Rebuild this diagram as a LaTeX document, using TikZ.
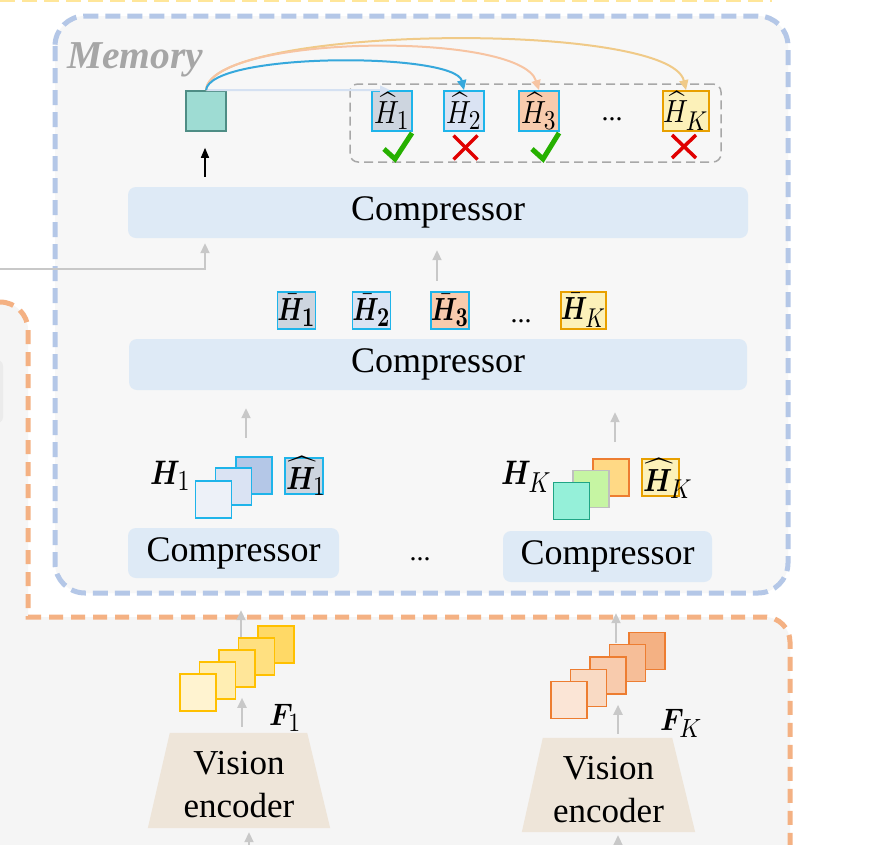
\documentclass[tikz,border=0pt]{standalone}
\usepackage{fontspec}
\setmainfont{Liberation Serif}
\usepackage{bm}
\usetikzlibrary{arrows.meta,calc}
\definecolor{memfill}{HTML}{F7F7F7}
\definecolor{memblue}{HTML}{B4C7E7}
\definecolor{orline}{HTML}{F4B183}
\definecolor{orfill}{HTML}{F5F5F5}
\definecolor{yel}{HTML}{FFE699}
\definecolor{compfill}{HTML}{DEEAF6}
\definecolor{cyanb}{HTML}{1EB4EA}
\definecolor{tealfill}{HTML}{9EDCD3}
\definecolor{tealdraw}{HTML}{4E8D85}
\definecolor{arrgray}{HTML}{C8C8C8}
\definecolor{grpgray}{HTML}{A8A8A8}
\definecolor{chkgreen}{HTML}{26B000}
\definecolor{crsred}{HTML}{E00000}
\definecolor{encfill}{HTML}{EEE5D9}
\definecolor{memgray}{HTML}{A6A6A6}
\definecolor{fA}{HTML}{CDD5DF}
\definecolor{fB}{HTML}{DAE3F3}
\definecolor{fC}{HTML}{F8CBAD}
\definecolor{fD}{HTML}{FCF1B9}
\definecolor{dK}{HTML}{E8A000}
\definecolor{lblue}{HTML}{D5E1F2}
\definecolor{cblue}{HTML}{36A8DC}
\definecolor{cpeach}{HTML}{F7C4A2}
\definecolor{corange}{HTML}{F0CA88}
\definecolor{oK}{HTML}{ED7D31}
\definecolor{yK}{HTML}{FFC000}
\newcommand{\mysb}[1]{\scalebox{0.85}{$#1$}}
\newcommand{\mysbb}[1]{\scalebox{0.85}{$\bm{#1}$}}
\tikzset{
  hb/.style={draw=cyanb, line width=1.8pt, minimum width=40pt, minimum height=40pt, inner sep=0pt},
  bb/.style={draw=cyanb, line width=1.8pt, minimum width=37pt, minimum height=37pt, inner sep=0pt},
  sq/.style={draw=cyanb, line width=1.6pt, minimum width=36pt, minimum height=37pt, inner sep=0pt},
  fsq/.style={line width=1.6pt, minimum width=36pt, minimum height=37pt, inner sep=0pt},
  comp/.style={fill=compfill, rounded corners=8pt, minimum height=51pt, inner sep=0pt, font=\fontsize{36}{40}\selectfont},
  garrow/.style={draw=arrgray, line width=2pt, -{Triangle[length=10pt,width=9pt]}},
  carrow/.style={line width=2pt, -{Triangle[length=10pt,width=9pt]}},
  chk/.style={draw=chkgreen, line width=5pt},
  crs/.style={draw=crsred, line width=3.5pt},
  dotsf/.style={font=\fontsize{28}{30}\selectfont, anchor=base, inner sep=0pt},
  lbl/.style={anchor=base west, inner sep=0pt},
  enc/.style={minimum height=95pt, inner sep=0pt},
  enctext/.style={align=center, inner sep=0pt, font=\fontsize{35}{43}\selectfont},
}
\begin{document}
\begin{tikzpicture}[x=1pt,y=-1pt]
\useasboundingbox (0,0) rectangle (874,844);
\clip (0,0) rectangle (874,844);
\fill[white] (0,0) rectangle (874,844);
% orange region
\fill[orfill] (0,302) .. controls (15.5,302) and (28,314.5) .. (28,330) -- (28,617) -- (765,617) .. controls (778.8,617) and (790,628.2) .. (790,642) -- (790,870) -- (-10,870) -- (-10,302) -- cycle;
\draw[orline, line width=5pt, dash pattern=on 14pt off 8pt] (0,302) .. controls (15.5,302) and (28,314.5) .. (28,330) -- (28,617) -- (765,617) .. controls (778.8,617) and (790,628.2) .. (790,642) -- (790,870);
% top yellow line
\draw[yel, line width=4pt, dash pattern=on 15pt off 7pt] (0,0) -- (772,0);
% partial gray box at left edge
\fill[black!8, rounded corners=6pt] (-20,360) rectangle (3,423);
% memory box
\draw[memblue, fill=memfill, line width=5pt, dash pattern=on 15pt off 7pt, rounded corners=30pt] (55,16) rectangle (788,593);
\node[anchor=base west, inner sep=0pt, text=memgray, font=\fontsize{39.5}{42}\selectfont\bfseries\itshape] (memtitle) at (67,68) {Memory};

% compressors
\node[comp, minimum width=620pt] (c1) at (438,212.5) {Compressor};
\node[comp, minimum width=618pt] (c2) at (438,364.5) {Compressor};
\node[comp, minimum width=211pt, minimum height=50pt] (cl) at (233.5,553) {Compressor};
\node[comp, minimum width=209pt] (cr) at (607.5,556.5) {Compressor};

% memory token
\node[fill=tealfill, draw=tealdraw, line width=1.6pt, minimum width=40pt, minimum height=40pt, inner sep=0pt] (mem) at (206,111) {};

% group box
\node[draw=grpgray, line width=1.5pt, dash pattern=on 9pt off 5pt, rounded corners=8pt, minimum width=371pt, minimum height=78pt, inner sep=0pt] (grp) at (535.5,123) {};
\node[hb, fill=fA] (t1) at (392,111) {\scalebox{2.75}[3.2]{$\widehat{H}_{\mysb{1}}$}};
\node[hb, fill=fB] (t2) at (464,111) {\scalebox{2.75}[3.2]{$\widehat{H}_{\mysb{2}}$}};
\node[hb, fill=fC] (t3) at (539,111) {\scalebox{2.75}[3.2]{$\widehat{H}_{\mysb{3}}$}};
\node[dotsf] (tdots) at (612,120) {...};
\node[hb, fill=fD, draw=dK] (tK) at (686,111) {\scalebox{2.75}[3.2]{$\widehat{H}_{\mysb{K}}$}};

% checks and crosses
\coordinate (k1) at (398,147);
\coordinate (k2) at (465.5,147.5);
\coordinate (k3) at (546,147);
\coordinate (k4) at (684,146.5);
\draw[chk] (k1) ++(-14,2) -- ++(11,10) -- ++(17,-26);
\draw[chk] (k3) ++(-14,2) -- ++(11,10) -- ++(16,-26);
\draw[crs] (k2) ++(-12,-12) -- ++(24,24);
\draw[crs] (k2) ++(-12,12) -- ++(24,-24);
\draw[crs] (k4) ++(-12,-11.5) -- ++(24,23);
\draw[crs] (k4) ++(-12,11.5) -- ++(24,-23);

% top arrows
\draw[carrow, lblue] (mem.north) -- ([xshift=-2pt]t1.north);
\draw[carrow, corange] (mem.north) .. controls (210,25) and (670,20) .. (tK.north);
\draw[carrow, cpeach] (mem.north) .. controls (210,35) and (520,30) .. (t3.north);
\draw[carrow, cblue] (mem.north) .. controls (210,52) and (455,52) .. (t2.north);

% black arrow
\draw[line width=1.5pt, -{Triangle[length=10pt,width=8pt]}] ($(c1.north)+(-233,-10)$) -- ($(mem.south)+(-1,16)$);

% gray connectors to compressor 1
\coordinate (gin) at (0,269);
\draw[garrow] (gin) -| ($(c1.south)+(-233,5)$);
\draw[garrow] ($(c2.north)+(-1,-58)$) -- ($(c1.south)+(-1,12)$);

% bar row
\node[bb, fill=fA] (b1) at (296.5,310.5) {\scalebox{2.5}[3.2]{$\bm{\bar{H}}_{\mysbb{1}}$}};
\node[bb, fill=fB] (b2) at (371.5,310.5) {\scalebox{2.5}[3.2]{$\bm{\bar{H}}_{\mysbb{2}}$}};
\node[bb, fill=fC] (b3) at (450,310.5) {\scalebox{2.5}[3.2]{$\bm{\bar{H}}_{\mysbb{3}}$}};
\node[dotsf] (bdots) at (521,322) {...};
\node[bb, fill=fD, draw=dK] (bK) at (583.5,310.5) {\scalebox{2.5}[3.2]{$\bm{\bar{H}}_{\mysb{K}}$}};

% arrows stacks -> c2
\draw[garrow] ($(c2.south)+(-192,48)$) -- ($(c2.south)+(-192,18)$);
\draw[garrow] ($(c2.south)+(177,52)$) -- ($(c2.south)+(177,22)$);

% left stack
\node[sq, fill=memblue] (s13) at (254,475.5) {};
\node[sq, fill=fB] (s12) at (233.5,486.5) {};
\node[sq, fill={rgb,255:red,237;green,241;blue,248}] (s11) at (213.5,499.5) {};
\node[lbl] (lH1) at (150,484) {\scalebox{2.8}[3.4]{$\bm{H}_{\mysb{1}}$}};
\node[sq, fill=fA, minimum width=38pt, minimum height=36pt] (hh1) at (304,476) {};
\node[lbl] (lhh1) at (286,489) {\scalebox{2.75}[3.2]{$\widehat{\bm{H}}_{\mysb{1}}$}};

% right stack
\node[fsq, draw=oK, fill={rgb,255:red,255;green,217;blue,133}] (sK3) at (611,477.5) {};
\node[fsq, draw=black!25, fill={rgb,255:red,198;green,245;blue,163}] (sK2) at (591,489) {};
\node[fsq, draw={rgb,255:red,31;green,165;blue,133}, fill={rgb,255:red,149;green,240;blue,217}] (sK1) at (571.5,501) {};
\node[lbl] (lHK) at (501,484) {\scalebox{2.8}[3.4]{$\bm{H}_{\mysb{K}}$}};
\node[fsq, draw=dK, fill=fD, minimum width=37pt] (hhK) at (660.5,477.5) {};
\node[lbl] (lhhK) at (643,491) {\scalebox{2.75}[3.2]{$\widehat{\bm{H}}_{\mysb{K}}$}};

\node[dotsf] (cdots) at (420,560) {...};

% vision encoders
\node[enc, minimum width=182pt] (encL) at (239,780.5) {};
\fill[encfill] ($(encL.north west)+(22,0)$) -- ($(encL.north east)+(-23,0)$) -- (encL.south east) -- (encL.south west) -- cycle;
\node[enctext] (encLt) at (239,785) {Vision\\encoder};
\node[enc, minimum width=173pt, minimum height=94pt] (encR) at (608.5,785) {};
\fill[encfill] ($(encR.north west)+(21,0)$) -- ($(encR.north east)+(-23,0)$) -- (encR.south east) -- (encR.south west) -- cycle;
\node[enctext] (encRt) at (608.5,790) {Vision\\encoder};

% arrows around encoders
\draw[garrow] ($(encL.south)+(10,32)$) -- ($(encL.south)+(10,4)$);
\draw[garrow] ($(encR.south)+(9.5,30)$) -- ($(encR.south)+(9.5,3)$);
\draw[garrow] ($(encL.north)+(3,-6)$) -- ($(encL.north)+(3,-35)$);
\draw[garrow] ($(encR.north)+(9.5,-4)$) -- ($(encR.north)+(9.5,-33)$);
\draw[garrow] ($(cl.south)+(7.5,62)$) -- ($(cl.south)+(7.5,32)$);
\draw[garrow] ($(cr.south)+(8.5,61)$) -- ($(cr.south)+(8.5,31)$);

% F1 feature stack
\node[fsq, draw=yK, fill={rgb,255:red,255;green,217;blue,102}] (f15) at (276,644.5) {};
\node[fsq, draw=yK, fill={rgb,255:red,255;green,224;blue,128}] (f14) at (256.5,656.5) {};
\node[fsq, draw=yK, fill={rgb,255:red,255;green,230;blue,153}] (f13) at (237,668.5) {};
\node[fsq, draw=yK, fill={rgb,255:red,255;green,238;blue,179}] (f12) at (217.5,680.5) {};
\node[fsq, draw=yK, fill={rgb,255:red,255;green,243;blue,208}] (f11) at (198,692.5) {};
\node[lbl] (lF1) at (269,725) {\scalebox{2.8}[3.1]{$\bm{F}_{\mysb{1}}$}};

% FK feature stack
\node[fsq, draw=oK, fill={rgb,255:red,244;green,177;blue,131}] (fK5) at (647,651) {};
\node[fsq, draw=oK, fill={rgb,255:red,246;green,190;blue,152}] (fK4) at (627.5,663) {};
\node[fsq, draw=oK, fill={rgb,255:red,248;green,203;blue,173}] (fK3) at (608,675.5) {};
\node[fsq, draw=oK, fill={rgb,255:red,249;green,218;blue,196}] (fK2) at (588.5,688) {};
\node[fsq, draw=oK, fill={rgb,255:red,251;green,229;blue,214}] (fK1) at (569,700) {};
\node[lbl] (lFK) at (660,730) {\scalebox{2.8}[3.1]{$\bm{F}_{\mysb{K}}$}};
\end{tikzpicture}
\end{document}
